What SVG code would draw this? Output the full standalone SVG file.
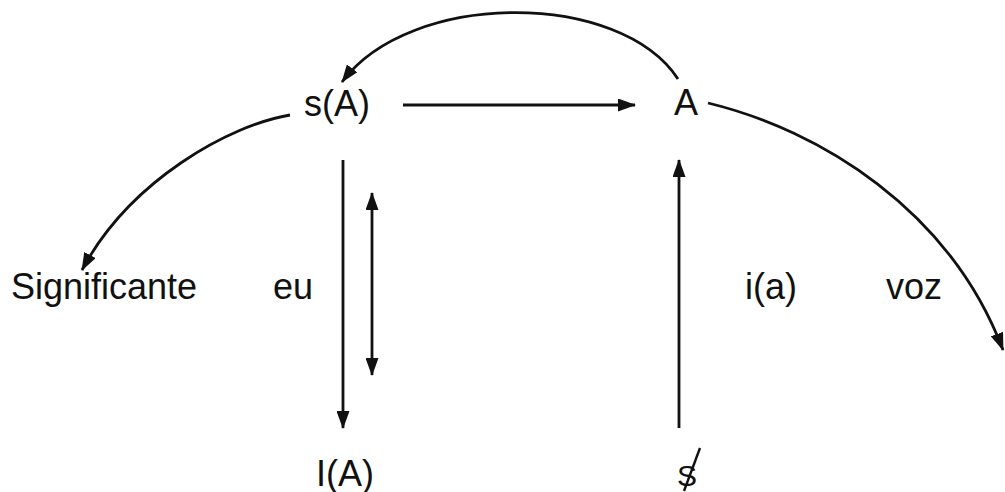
<svg xmlns="http://www.w3.org/2000/svg" width="1005" height="492" viewBox="0 0 1005 492">
<style>
.t{font-family:"Liberation Sans",Arial,sans-serif;font-size:36px;fill:#111}
.c{fill:none;stroke:#111;stroke-width:2.8}
</style>
<defs>
<marker id="ah" viewBox="0 0 18 13" refX="17" refY="6.5" markerWidth="18" markerHeight="13" markerUnits="userSpaceOnUse" orient="auto-start-reverse">
<path d="M0,0 L18,6.5 L0,13 Z" fill="#111"/>
</marker>
</defs>
<rect width="1005" height="492" fill="#fff"/>
<g id="connectors">
<path class="c" d="M678,79 C620,-10 410,-10 342,82" marker-end="url(#ah)"/>
<path class="c" d="M403,105 L635,105" marker-end="url(#ah)"/>
<path class="c" d="M290,115 C230,125 130,180 82,270" marker-end="url(#ah)"/>
<path class="c" d="M708,103 C820,130 950,210 1003,350" marker-end="url(#ah)"/>
<path class="c" d="M343,160 L343,428" marker-end="url(#ah)"/>
<path class="c" d="M372,193 L372,375" marker-start="url(#ah)" marker-end="url(#ah)"/>
<path class="c" d="M679,428 L679,160" marker-end="url(#ah)"/>
</g>
<g id="node-sA"><text class="t" x="304" y="116">s(A)</text></g>
<g id="node-A"><text class="t" x="674" y="115">A</text></g>
<g id="node-significante"><text class="t" x="11" y="299">Significante</text></g>
<g id="node-eu"><text class="t" x="273" y="299">eu</text></g>
<g id="node-ia"><text class="t" x="745" y="299">i(a)</text></g>
<g id="node-voz"><text class="t" x="886" y="299">voz</text></g>
<g id="node-IA"><text class="t" x="316" y="486">I(A)</text></g>
<g id="node-S">
<text class="t" x="677" y="486" style="font-size:30px">S</text>
<line x1="700" y1="448" x2="684" y2="491" stroke="#111" stroke-width="2.4"/>
</g>
</svg>
